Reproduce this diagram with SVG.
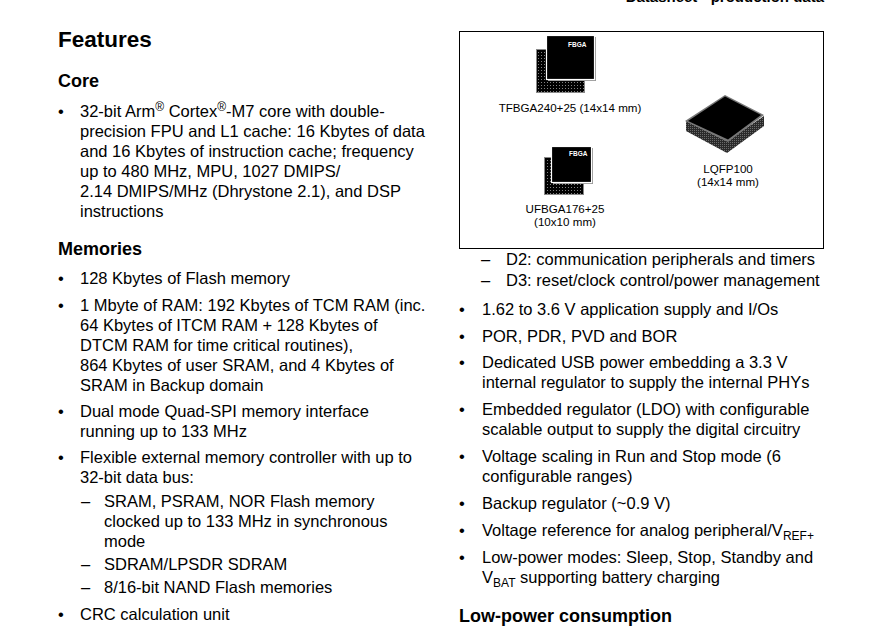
<svg xmlns="http://www.w3.org/2000/svg" width="893" height="638" viewBox="0 0 893 638">
<style>
  text { font-family: "Liberation Sans", Arial, sans-serif; fill: #000; }
  .b { font-size: 16.5px; }
  .h { font-size: 18px; font-weight: bold; }
  .t { font-size: 22.5px; font-weight: bold; }
  .cap { font-size: 11.6px; text-anchor: middle; }
  .fb { font-size: 6.5px; font-weight: bold; fill: #fff; }
  .sup { font-size: 12px; }
  .sub { font-size: 12px; }
</style>
<defs>
  <pattern id="dots" width="3" height="3" patternUnits="userSpaceOnUse">
    <rect width="3" height="3" fill="#000"/>
    <rect x="1" y="1" width="1" height="1" fill="#808080"/>
  </pattern>
  <pattern id="leads" width="2" height="2" patternUnits="userSpaceOnUse">
    <rect width="2" height="2" fill="#2a2a2a"/>
    <rect width="1" height="1" fill="#6a6a6a"/>
  </pattern>
</defs>
<rect width="893" height="638" fill="#fff"/>

<g id="header">
  <text x="824" y="2" style="font-size:15px;font-weight:bold" text-anchor="end">Datasheet - production data</text>
</g>

<g id="left-column">
  <text class="t" x="58" y="47">Features</text>
  <text class="h" x="58" y="87">Core</text>
  <text class="b" x="58" y="117">•</text>
  <text class="b" x="80" y="117">32-bit Arm<tspan class="sup" dy="-6">®</tspan><tspan dy="6"> Cortex</tspan><tspan class="sup" dy="-6">®</tspan><tspan dy="6">-M7 core with double-</tspan></text>
  <text class="b" x="80" y="137">precision FPU and L1 cache: 16 Kbytes of data</text>
  <text class="b" x="80" y="157">and 16 Kbytes of instruction cache; frequency</text>
  <text class="b" x="80" y="177">up to 480 MHz, MPU, 1027 DMIPS/</text>
  <text class="b" x="80" y="197">2.14 DMIPS/MHz (Dhrystone 2.1), and DSP</text>
  <text class="b" x="80" y="217">instructions</text>

  <text class="h" x="58" y="255">Memories</text>
  <text class="b" x="58" y="284">•</text>
  <text class="b" x="80" y="284">128 Kbytes of Flash memory</text>
  <text class="b" x="58" y="311">•</text>
  <text class="b" x="80" y="311">1 Mbyte of RAM: 192 Kbytes of TCM RAM (inc.</text>
  <text class="b" x="80" y="331">64 Kbytes of ITCM RAM + 128 Kbytes of</text>
  <text class="b" x="80" y="351">DTCM RAM for time critical routines),</text>
  <text class="b" x="80" y="371">864 Kbytes of user SRAM, and 4 Kbytes of</text>
  <text class="b" x="80" y="391">SRAM in Backup domain</text>
  <text class="b" x="58" y="417">•</text>
  <text class="b" x="80" y="417">Dual mode Quad-SPI memory interface</text>
  <text class="b" x="80" y="437">running up to 133 MHz</text>
  <text class="b" x="58" y="463">•</text>
  <text class="b" x="80" y="463">Flexible external memory controller with up to</text>
  <text class="b" x="80" y="483">32-bit data bus:</text>
  <text class="b" x="81" y="507">–</text>
  <text class="b" x="104" y="507">SRAM, PSRAM, NOR Flash memory</text>
  <text class="b" x="104" y="527">clocked up to 133 MHz in synchronous</text>
  <text class="b" x="104" y="547">mode</text>
  <text class="b" x="81" y="570">–</text>
  <text class="b" x="104" y="570">SDRAM/LPSDR SDRAM</text>
  <text class="b" x="81" y="593">–</text>
  <text class="b" x="104" y="593">8/16-bit NAND Flash memories</text>
  <text class="b" x="58" y="620">•</text>
  <text class="b" x="80" y="620">CRC calculation unit</text>
</g>

<g id="packages">
  <rect x="459.5" y="31.5" width="364" height="217" fill="none" stroke="#000" stroke-width="1"/>
  <g id="tfbga240">
    <rect x="536.5" y="49.5" width="48" height="43" fill="url(#dots)" stroke="#888" stroke-width="1"/>
    <rect x="548" y="37" width="48" height="44" fill="#999"/>
    <rect x="546.5" y="35.5" width="48" height="44" fill="#000" stroke="#fff" stroke-width="1.2"/>
    <text class="fb" x="568" y="47">FBGA</text>
    <text class="cap" x="570" y="112">TFBGA240+25 (14x14 mm)</text>
  </g>
  <g id="ufbga176">
    <rect x="544.5" y="157.5" width="39" height="37" fill="url(#dots)" stroke="#888" stroke-width="1"/>
    <rect x="553" y="148" width="40" height="36" fill="#999"/>
    <rect x="551.5" y="146.5" width="40" height="36" fill="#000" stroke="#fff" stroke-width="1.2"/>
    <text class="fb" x="569" y="156">FBGA</text>
    <text class="cap" x="565" y="213">UFBGA176+25</text>
    <text class="cap" x="565" y="226">(10x10 mm)</text>
  </g>
  <g id="lqfp100">
    <polygon points="686,121 727,141 727,153 686,131" fill="url(#leads)"/>
    <polygon points="727,141 764,116 764,126 727,153" fill="url(#leads)"/>
    <polygon points="725,95 764,115 728,142 685,121" fill="#777"/>
    <polygon points="725,96.5 761,115 728,139.5 688,121" fill="#000"/>
    <text class="cap" x="728" y="173">LQFP100</text>
    <text class="cap" x="728" y="186">(14x14 mm)</text>
  </g>
</g>

<g id="right-column">
  <text class="b" x="481" y="265">–</text>
  <text class="b" x="506" y="265">D2: communication peripherals and timers</text>
  <text class="b" x="481" y="286">–</text>
  <text class="b" x="506" y="286">D3: reset/clock control/power management</text>
  <text class="b" x="459" y="315">•</text>
  <text class="b" x="482" y="315">1.62 to 3.6 V application supply and I/Os</text>
  <text class="b" x="459" y="342">•</text>
  <text class="b" x="482" y="342">POR, PDR, PVD and BOR</text>
  <text class="b" x="459" y="368">•</text>
  <text class="b" x="482" y="368">Dedicated USB power embedding a 3.3 V</text>
  <text class="b" x="482" y="388">internal regulator to supply the internal PHYs</text>
  <text class="b" x="459" y="415">•</text>
  <text class="b" x="482" y="415">Embedded regulator (LDO) with configurable</text>
  <text class="b" x="482" y="435">scalable output to supply the digital circuitry</text>
  <text class="b" x="459" y="462">•</text>
  <text class="b" x="482" y="462">Voltage scaling in Run and Stop mode (6</text>
  <text class="b" x="482" y="482">configurable ranges)</text>
  <text class="b" x="459" y="509">•</text>
  <text class="b" x="482" y="509">Backup regulator (~0.9 V)</text>
  <text class="b" x="459" y="536">•</text>
  <text class="b" x="482" y="536">Voltage reference for analog peripheral/V<tspan class="sub" dy="4">REF+</tspan></text>
  <text class="b" x="459" y="563">•</text>
  <text class="b" x="482" y="563">Low-power modes: Sleep, Stop, Standby and</text>
  <text class="b" x="482" y="583">V<tspan class="sub" dy="4">BAT</tspan><tspan dy="-4"> supporting battery charging</tspan></text>
  <text class="h" x="459" y="622">Low-power consumption</text>
</g>
</svg>
